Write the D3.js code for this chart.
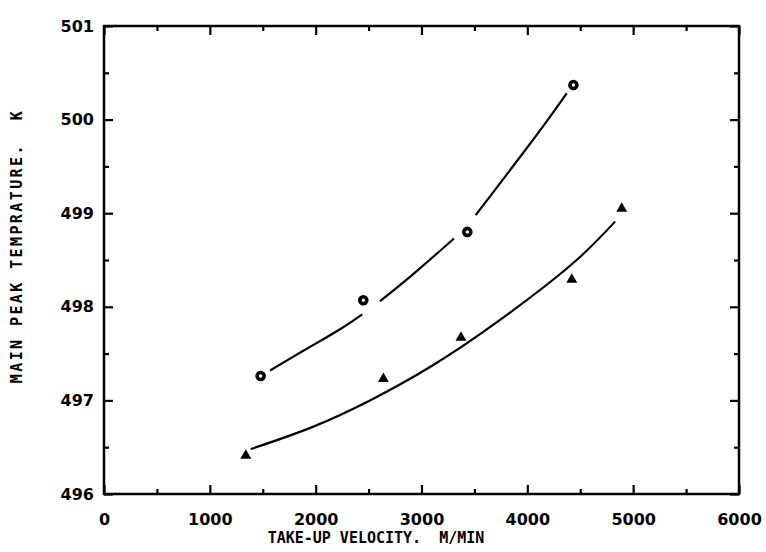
<!DOCTYPE html>
<html>
<head>
<meta charset="utf-8">
<script src="https://cdn.jsdelivr.net/npm/d3@7"></script>
<style>
  body { margin: 0; background: #fff; }
  svg { display: block; }
</style>
</head>
<body>
<div id="chart"></div>
<script>
// tick values
const xMajor = [0, 1000, 2000, 3000, 4000, 5000, 6000];
const xMinor = [500, 1500, 2500, 3500, 4500, 5500];
const yMajor = [496, 497, 498, 499, 500, 501];
const yMinor = [496.5, 497.5, 498.5, 499.5, 500.5];

// measured points
const circleVel = [1480, 2450, 3433, 4435];
const circleTemp = [497.26, 498.07, 498.80, 500.37];
const triVel = [1340, 2640, 3373, 4420, 4892];
const triTemp = [496.41, 497.23, 497.67, 498.29, 499.05];

// fitted curves (null = gap in the line)
const upperVel = [1569, 1883, 2230, 2440, null, 2608, 2922, 3307, null, 3512, 3931, 4150, 4372];
const upperTemp = [497.32, 497.53, 497.76, 497.92, null, 498.06, 498.35, 498.73, null, 498.98, 499.60, 499.93, 500.28];
const lowerVel = [1386, 1978, 2513, 3100, 3742, 4466, 4829];
const lowerTemp = [496.48, 496.72, 497.00, 497.37, 497.86, 498.50, 498.91];

const width = 766, height = 552;
const plotLeft = 104, plotRight = 739, plotTop = 26, plotBottom = 494;

var svg = d3.select("#chart")
    .append("svg")
    .attr("width", width)
    .attr("height", height);

var x = d3.scaleLinear().domain([0, 6000]).range([plotLeft, plotRight]);
var y = d3.scaleLinear().domain([496, 501]).range([plotBottom, plotTop]);

// inward ticks on all four sides
function axisStyle(g) {
    g.select(".domain").remove();
    g.selectAll(".tick line").attr("stroke", "#000").attr("stroke-width", 2.2);
}

svg.append("g").attr("transform", `translate(0,${plotBottom})`)
    .call(d3.axisBottom(x).tickValues(xMajor).tickSize(-9).tickPadding(20).tickFormat(d3.format("d")))
    .call(axisStyle)
    .selectAll("text")
    .attr("font-family", "DejaVu Sans").attr("font-weight", "bold").attr("font-size", 16).attr("fill", "#000");
svg.append("g").attr("transform", `translate(0,${plotBottom})`)
    .call(d3.axisBottom(x).tickValues(xMinor).tickSize(-5).tickFormat(""))
    .call(axisStyle);
svg.append("g").attr("transform", `translate(0,${plotTop})`)
    .call(d3.axisTop(x).tickValues(xMajor).tickSize(-9).tickFormat(""))
    .call(axisStyle);
svg.append("g").attr("transform", `translate(0,${plotTop})`)
    .call(d3.axisTop(x).tickValues(xMinor).tickSize(-5).tickFormat(""))
    .call(axisStyle);

svg.append("g").attr("transform", `translate(${plotLeft},0)`)
    .call(d3.axisLeft(y).tickValues(yMajor).tickSize(-9).tickPadding(10).tickFormat(d3.format("d")))
    .call(axisStyle)
    .selectAll("text")
    .attr("font-family", "DejaVu Sans").attr("font-weight", "bold").attr("font-size", 16).attr("fill", "#000");
svg.append("g").attr("transform", `translate(${plotLeft},0)`)
    .call(d3.axisLeft(y).tickValues(yMinor).tickSize(-5).tickFormat(""))
    .call(axisStyle);
svg.append("g").attr("transform", `translate(${plotRight},0)`)
    .call(d3.axisRight(y).tickValues(yMajor).tickSize(-9).tickFormat(""))
    .call(axisStyle);
svg.append("g").attr("transform", `translate(${plotRight},0)`)
    .call(d3.axisRight(y).tickValues(yMinor).tickSize(-5).tickFormat(""))
    .call(axisStyle);

// frame
svg.append("rect")
    .attr("x", plotLeft).attr("y", plotTop)
    .attr("width", plotRight - plotLeft).attr("height", plotBottom - plotTop)
    .attr("fill", "none").attr("stroke", "#000").attr("stroke-width", 2.5);

// curves
var line = d3.line()
    .defined(function(d){return d[0] != null;})
    .x(function(d){return x(d[0]);})
    .y(function(d){return y(d[1]);})
    .curve(d3.curveCatmullRom);

svg.append("path")
    .datum(upperVel.map(function(v, i){return [v, upperTemp[i]];}))
    .attr("d", line)
    .attr("fill", "none").attr("stroke", "#000").attr("stroke-width", 2.2);

svg.append("path")
    .datum(lowerVel.map(function(v, i){return [v, lowerTemp[i]];}))
    .attr("d", line)
    .attr("fill", "none").attr("stroke", "#000").attr("stroke-width", 2.2);

// markers
svg.selectAll("circle.pt")
    .data(circleVel)
    .enter().append("circle")
    .attr("class", "pt")
    .attr("cx", function(d){return x(d);})
    .attr("cy", function(d, i){return y(circleTemp[i]);})
    .attr("r", 3.5)
    .attr("fill", "#fff").attr("stroke", "#000").attr("stroke-width", 3.6);

svg.selectAll("path.tri")
    .data(triVel)
    .enter().append("path")
    .attr("class", "tri")
    .attr("d", d3.symbol(d3.symbolTriangle).size(52))
    .attr("transform", function(d, i){return `translate(${x(d)},${y(triTemp[i])})`;})
    .attr("fill", "#000");

// axis titles (keep the double spaces)
svg.append("text")
    .attr("x", 376).attr("y", 543)
    .attr("text-anchor", "middle")
    .attr("font-family", "DejaVu Sans Mono").attr("font-weight", "bold").attr("font-size", 15)
    .style("white-space", "pre")
    .text("TAKE-UP VELOCITY.  M/MIN");

svg.append("text")
    .attr("transform", "translate(22,246) rotate(-90)")
    .attr("text-anchor", "middle")
    .attr("font-family", "DejaVu Sans Mono").attr("font-weight", "bold").attr("font-size", 15)
    .attr("letter-spacing", 2.4)
    .style("white-space", "pre")
    .text("MAIN PEAK TEMPRATURE.  K");
</script>
</body>
</html>
